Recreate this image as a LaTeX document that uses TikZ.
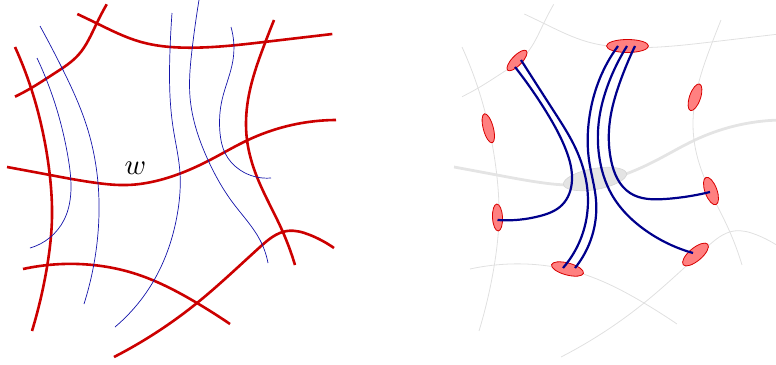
\documentclass[tikz,border=0pt]{standalone}
\usetikzlibrary{shapes.geometric,hobby}
\definecolor{netred}{RGB}{204,0,0}
\definecolor{thinblue}{RGB}{20,20,170}
\definecolor{navyline}{RGB}{0,0,140}
\definecolor{ghost}{RGB}{224,224,224}
\definecolor{ghostw}{RGB}{228,228,228}
\definecolor{ellfill}{RGB}{255,128,128}
\definecolor{ellline}{RGB}{215,0,0}
\definecolor{hubfill}{RGB}{228,228,228}
\definecolor{hubline}{RGB}{212,212,212}
\begin{document}
\begin{tikzpicture}[x=1pt,y=-1pt,
  redcurve/.style={netred, line width=2.6pt},
  ghostcurve/.style={ghost, line width=0.8pt},
  ghostwcurve/.style={ghostw, line width=2.8pt},
  thinblueline/.style={thinblue, line width=0.7pt},
  strand/.style={navyline, line width=2.2pt},
  redell/.style={ellipse, draw=ellline, fill=ellfill, line width=0.8pt, inner sep=0pt},
  hub/.style={ellipse, draw=hubline, fill=hubfill, line width=0.6pt, inner sep=0pt},
  use Hobby shortcut,
]
\useasboundingbox (0,0) rectangle (776,364);
\clip (0,0) rectangle (776,364);

% red net (left) and its grey copy (right)
\foreach \dx/\sa/\sb in {0/redcurve/redcurve, 447/ghostcurve/ghostwcurve}{
  \begin{scope}[xshift=\dx pt]
    \draw[\sa] (106.7,4.3) .. (96.7,23.3) .. (78.3,55) .. (55,73) .. (30.7,88.3) .. (15,96.7);
    \draw[\sa] (77.3,14) .. (96.7,23.3) .. (140,41.7) .. (191.7,47.7) .. (266.7,41.7) .. (332.3,34);
    \draw[\sa] (15,47) .. (31,88) .. (43,133) .. (50,177) .. (52,217) .. (47,267) .. (32,331);
    \draw[\sb] (7,167) .. (50,175) .. (97,183) .. (127,185) .. (160,180) .. (210,160) .. (248,140) .. (280,128) .. (336,120);
    \draw[\sa] (274,20) .. (265,43) .. (248,100) .. (247,140) .. (257,177) .. (282,230) .. (295,265);
    \draw[\sa] (23,269) .. (93,265) .. (133,273) .. (197,303) .. (230,324);
    \draw[\sa] (114,357) .. (197,303) .. (260,247) .. (287,231) .. (310,235) .. (334,248);
  \end{scope}
}

% thin blue lines (left)
\draw[thinblueline] (40,26) .. (62,68) .. (87,127) .. (98,183) .. (98,233) .. (84,304);
\draw[thinblueline] (37,58) .. (57,110) .. (68,157) .. (71,187) .. (64,220) .. (30,248);
\draw[thinblueline] (172,13) .. (170,50) .. (173,127) .. (180,173) .. (178,210) .. (153,282) .. (115,327);
\draw[thinblueline] (199,0) .. (192,50) .. (190,97) .. (208,160) .. (233,203) .. (260,240) .. (268,263);
\draw[thinblueline] (231,27) .. (233,60) .. (222,100) .. (220,133) .. (225,153) .. (240,170) .. (271,178);

\node[scale=2.9, inner sep=0pt] (w) at (135.3,168.7) {$w$};

% right panel
\node[hub, minimum width=64pt, minimum height=21pt, rotate=10] (hb) at (595,179) {};

\node[redell, minimum width=27pt, minimum height=10pt, rotate=46] (e1) at (517,60.5) {};
\node[redell, minimum width=42pt, minimum height=13pt] (e2) at (627.5,46) {};
\node[redell, minimum width=28pt, minimum height=11pt, rotate=71] (e3) at (695,97.3) {};
\node[redell, minimum width=30pt, minimum height=10pt, rotate=105] (e4) at (488.3,128.3) {};
\node[redell, minimum width=29pt, minimum height=12pt, rotate=110] (e5) at (711,191) {};
\node[redell, minimum width=27pt, minimum height=10pt, rotate=93] (e6) at (497.5,217.5) {};
\node[redell, minimum width=32pt, minimum height=13pt, rotate=40] (e7) at (695.5,254.5) {};
\node[redell, minimum width=33pt, minimum height=12pt, rotate=-15] (e8) at (567.5,269) {};

\coordinate (a1) at (515,67);
\coordinate (a2) at (497.5,220);
\coordinate (b1) at (521,60);
\coordinate (b2) at (563,268);
\coordinate (c1) at (618,46);
\coordinate (c2) at (575,268);
\coordinate (d1) at (627,46);
\coordinate (d2) at (693,253);
\coordinate (f1) at (635,46);
\coordinate (f2) at (710,192);

\draw[strand] (a1) .. (547,113) .. (566,150) .. (572,180) .. (562,205) .. (540,216) .. (a2);
\draw[strand] (b1) .. (555,113) .. (574,145) .. (586,180) .. (587,215) .. (b2);
\draw[strand] (c1) .. (600,78) .. (589,120) .. (589,160) .. (596,200) .. (c2);
\draw[strand] (d1) .. (609,82) .. (599,120) .. (599,155) .. (612,195) .. (645,230) .. (d2);
\draw[strand] (f1) .. (620,82) .. (610,120) .. (611,160) .. (630,193) .. (665,199) .. (f2);
\end{tikzpicture}
\end{document}
